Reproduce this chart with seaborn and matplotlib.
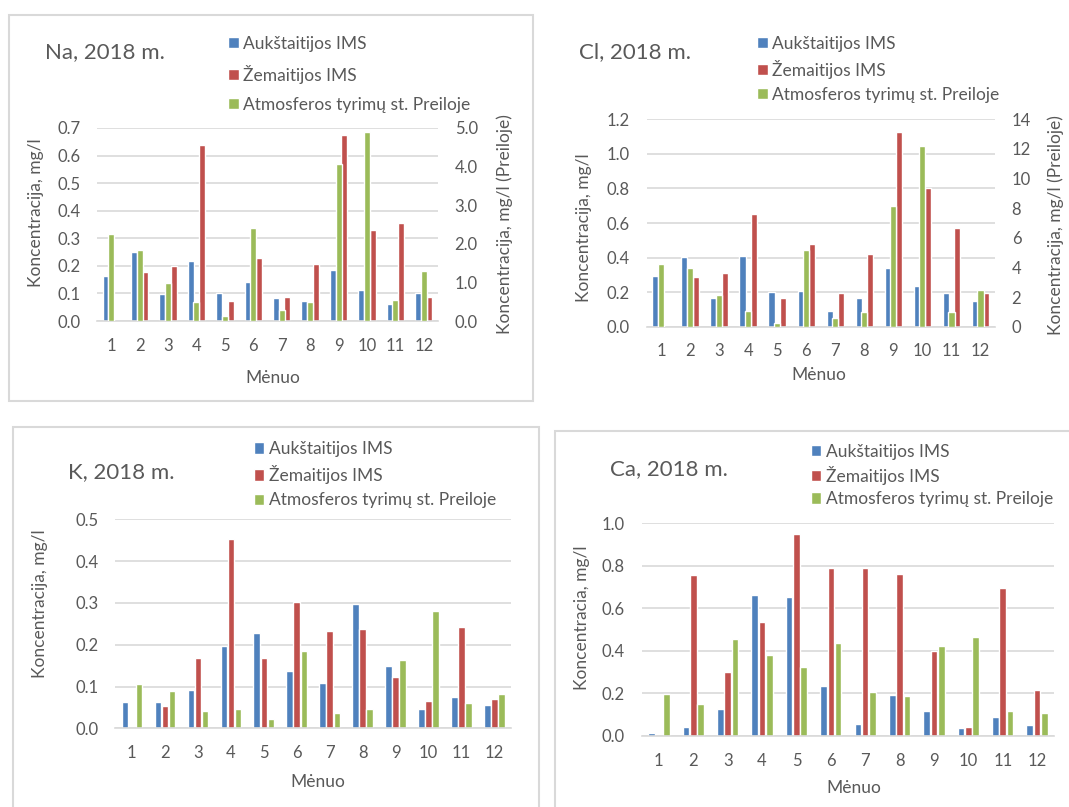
import pandas as pd
import seaborn as sns
import matplotlib.pyplot as plt
from matplotlib.patches import Patch, Rectangle
from matplotlib.ticker import FormatStrFormatter, MultipleLocator

# Duomenys (nuskaityti nuo paveikslo)
months = [str(m) for m in range(1, 13)]
stations = ["Aukštaitijos IMS", "Žemaitijos IMS", "Atmosferos tyrimų st. Preiloje"]

na_auk = [0.165, 0.249, 0.099, 0.216, 0.103, 0.140, 0.082, 0.074, 0.184, 0.112, 0.060, 0.100]
na_zem = [0.0, 0.178, 0.200, 0.637, 0.073, 0.227, 0.087, 0.208, 0.675, 0.331, 0.357, 0.087]
na_pre = [2.25, 1.85, 0.99, 0.48, 0.12, 2.41, 0.28, 0.49, 4.07, 4.90, 0.54, 1.30]

cl_auk = [0.293, 0.405, 0.166, 0.409, 0.199, 0.208, 0.093, 0.164, 0.340, 0.236, 0.197, 0.149]
cl_zem = [0.0, 0.288, 0.309, 0.654, 0.166, 0.479, 0.193, 0.419, 1.127, 0.801, 0.569, 0.195]
cl_pre = [4.23, 3.99, 2.14, 1.04, 0.25, 5.20, 0.61, 0.99, 8.13, 12.18, 0.97, 2.45]

k_auk = [0.062, 0.062, 0.091, 0.197, 0.227, 0.137, 0.108, 0.298, 0.150, 0.045, 0.075, 0.055]
k_zem = [0.0, 0.053, 0.167, 0.453, 0.167, 0.303, 0.233, 0.237, 0.123, 0.065, 0.243, 0.069]
k_pre = [0.106, 0.089, 0.042, 0.045, 0.023, 0.184, 0.036, 0.045, 0.164, 0.280, 0.061, 0.082]

ca_auk = [0.013, 0.042, 0.125, 0.661, 0.655, 0.237, 0.058, 0.193, 0.119, 0.036, 0.091, 0.053]
ca_zem = [0.0, 0.759, 0.302, 0.538, 0.950, 0.790, 0.792, 0.762, 0.400, 0.041, 0.694, 0.218]
ca_pre = [0.196, 0.149, 0.455, 0.379, 0.323, 0.439, 0.205, 0.190, 0.422, 0.464, 0.116, 0.110]

BLUE, RED, GREEN = "#4F81BD", "#C0504D", "#9BBB59"
colors = dict(zip(stations, [BLUE, RED, GREEN]))
TXT = "#595959"
GRID = "#D9D9D9"

sns.set_theme(style="white")
plt.rcParams["font.family"] = ["Lato", "DejaVu Sans"]

W, H = 1069, 807
fig = plt.figure(figsize=(W / 100, H / 100), dpi=100)


def fx(x):
    return x / W


def fy(y):
    return 1 - y / H


def long_df(series, names):
    rows = []
    for name, vals in zip(names, series):
        for m, v in zip(months, vals):
            rows.append({"Mėnuo": m, "Stotis": name, "Koncentracija": v})
    return pd.DataFrame(rows)


def make_axes(x0, y0, x1, y1):
    return fig.add_axes([fx(x0), fy(y1), (x1 - x0) / W, (y1 - y0) / H])


def style_axis(ax, top, step, fmt):
    ax.set_ylim(0, top)
    ax.yaxis.set_major_locator(MultipleLocator(step))
    ax.yaxis.set_major_formatter(FormatStrFormatter(fmt))
    ax.set_xlim(-0.5, 11.5)
    ax.set_xlabel("")
    ax.set_ylabel("")
    ax.tick_params(length=0, pad=12, labelsize=12, labelcolor=TXT)
    ax.yaxis.grid(True, color=GRID, lw=1.2)
    ax.set_axisbelow(True)
    for s in ["left", "right", "top"]:
        ax.spines[s].set_visible(False)
    ax.spines["bottom"].set_color(GRID)
    ax.spines["bottom"].set_linewidth(1.2)


def add_texts(title, tpos, ylab, ypos, xpos, rlab=None, rpos=None):
    fig.text(fx(tpos[0]), fy(tpos[1]), title, ha="left", va="center",
             fontsize=16, color=TXT)
    fig.text(fx(ypos[0]), fy(ypos[1]), ylab, ha="center", va="center",
             rotation=90, fontsize=12.5, color=TXT)
    fig.text(fx(xpos[0]), fy(xpos[1]), "Mėnuo", ha="center", va="center",
             fontsize=12.5, color=TXT)
    if rlab:
        fig.text(fx(rpos[0]), fy(rpos[1]), rlab, ha="center", va="center",
                 rotation=90, fontsize=12.5, color=TXT)


def add_legend(x, ytop, spacing):
    handles = [Patch(facecolor=colors[s], label=s) for s in stations]
    fig.legend(handles=handles, loc="upper left", bbox_to_anchor=(fx(x), fy(ytop)),
               frameon=False, fontsize=12.5, handlelength=0.62, handleheight=0.62,
               handletextpad=0.25, labelspacing=spacing, borderpad=0,
               borderaxespad=0, labelcolor=TXT)


def border(x0, y0, x1, y1):
    fig.add_artist(Rectangle((fx(x0), fy(y1)), (x1 - x0) / W, (y1 - y0) / H,
                             transform=fig.transFigure, fill=False,
                             edgecolor=GRID, lw=1.5))


def twin_panel(ax, auk, zem, pre, top1, step1, fmt1, top2, step2, fmt2):
    df = long_df([auk, zem], stations[:2])
    sns.barplot(data=df, x="Mėnuo", y="Koncentracija", hue="Stotis",
                hue_order=stations[:2], palette=colors, width=0.8, gap=0.48,
                saturation=1, errorbar=None, legend=False, ax=ax)
    ax2 = ax.twinx()
    sns.barplot(x=months, y=pre, color=GREEN, width=0.21, saturation=1,
                errorbar=None, ax=ax2)
    style_axis(ax, top1, step1, fmt1)
    ax2.set_ylim(0, top2)
    ax2.yaxis.set_major_locator(MultipleLocator(step2))
    ax2.yaxis.set_major_formatter(FormatStrFormatter(fmt2))
    ax2.set_ylabel("")
    ax2.tick_params(length=0, pad=12, labelsize=12, labelcolor=TXT)
    for s in ax2.spines.values():
        s.set_visible(False)
    ax.set_xlim(-0.5, 11.5)


def single_panel(ax, auk, zem, pre, top, step, fmt):
    df = long_df([auk, zem, pre], stations)
    sns.barplot(data=df, x="Mėnuo", y="Koncentracija", hue="Stotis",
                hue_order=stations, palette=colors, width=0.64, gap=0.1,
                saturation=1, errorbar=None, legend=False, ax=ax)
    style_axis(ax, top, step, fmt)


# Na
border(8.5, 15, 533, 401)
ax_na = make_axes(97, 128, 438, 321)
twin_panel(ax_na, na_auk, na_zem, na_pre, 0.7, 0.1, "%.1f", 5.0, 1.0, "%.1f")
add_texts("Na, 2018 m.", (45, 52), "Koncentracija, mg/l", (36, 213), (273, 378),
          "Koncentracija, mg/l (Preiloje)", (505, 224))
add_legend(228, 35.5, 0.76)

# Cl
ax_cl = make_axes(646.7, 119.3, 995, 326.7)
twin_panel(ax_cl, cl_auk, cl_zem, cl_pre, 1.2, 0.2, "%.1f", 14, 2, "%d")
add_texts("Cl, 2018 m.", (579, 52), "Koncentracija, mg/l", (584, 228), (819, 375),
          "Koncentracija, mg/l (Preiloje)", (1055.7, 225))
add_legend(756.8, 35.5, 0.47)

# K
border(12.6, 427, 539, 820)
ax_k = make_axes(115.3, 519.3, 511, 728.3)
single_panel(ax_k, k_auk, k_zem, k_pre, 0.5, 0.1, "%.1f")
add_texts("K, 2018 m.", (67.7, 472), "Koncentracija, mg/l", (40, 603.5), (317.7, 782))
add_legend(253.5, 441, 0.47)

# Ca
border(555, 431, 1080, 820)
ax_ca = make_axes(641.7, 523.3, 1054.3, 736)
single_panel(ax_ca, ca_auk, ca_zem, ca_pre, 1.0, 0.2, "%.1f")
add_texts("Ca, 2018 m.", (610, 469.5), "Koncentracia, mg/l", (582.3, 617.5), (854.3, 788.3))
add_legend(810.7, 443.5, 0.36)

fig.savefig("out.png", dpi=100)
